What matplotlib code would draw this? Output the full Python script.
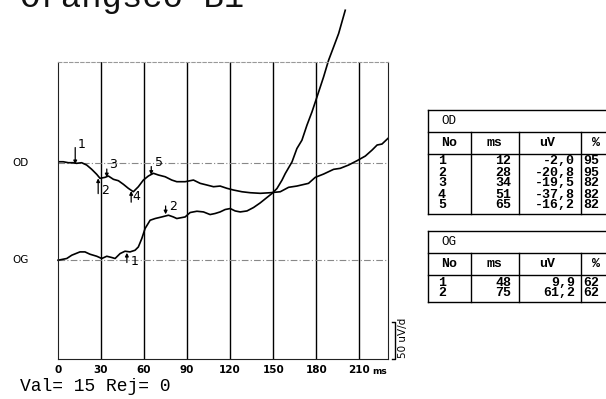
import matplotlib.pyplot as plt

# Traces (ms, uV relatives à la ligne de base de chaque oeil)
od_ms = [0, 3.7, 7.2, 10.7, 13.0, 16.5, 20.0, 23.5, 27.0, 29.3, 32.8, 35.1, 38.6, 42.1, 45.6,
         49.0, 52.5, 56.0, 59.5, 63.0, 66.5, 70.0, 74.7, 79.3, 82.8, 88.6, 94.4, 99.1, 103.7,
         108.4, 113.0, 117.7, 122.3, 128.2, 134.0, 141.0, 147.9, 154.9, 160.7, 166.5, 174.6,
         179.3, 185.1, 192.1, 196.7, 202.5, 208.4, 214.2, 218.9, 222.4, 225.8, 230.0]
od_uv = [1.3, 1.3, 0, 0, -0.8, 0, -3.1, -8.8, -15.5, -20.8, -19.5, -17.7, -22.1, -24.0, -28.8,
         -34.1, -38.7, -32.0, -23.1, -17.7, -14.1, -16.4, -18.7, -23.1, -25.3, -25.3, -23.1,
         -27.5, -29.7, -32.0, -31.1, -34.1, -36.4, -38.7, -40.0, -40.8, -40.0, -38.7, -32.8,
         -31.1, -27.5, -19.5, -15.1, -8.8, -7.5, -3.1, 2.7, 8.9, 16.9, 23.6, 24.9, 32.5]

og_ms = [0, 6.1, 9.6, 15.3, 18.8, 22.3, 27.0, 30.5, 34.0, 37.5, 39.8, 43.3, 46.7, 50.2, 53.7,
         56.0, 58.4, 60.7, 64.2, 67.7, 72.3, 77.0, 80.4, 82.8, 88.6, 92.1, 96.8, 101.4, 106.0,
         109.5, 113.0, 116.5, 120.0, 123.5, 127.0, 131.7, 136.3, 140.9, 145.6, 149.1, 152.6,
         156.1, 158.4, 163.1, 166.5, 170.0, 173.5, 177.0, 180.5, 185.1, 188.6, 192.1, 195.6, 200.2]
og_uv = [0, 2.3, 6.7, 11.1, 11.1, 8.0, 5.3, 2.3, 5.3, 3.6, 2.3, 8.9, 12.0, 11.1, 13.3,
         17.7, 28.9, 42.3, 53.3, 55.6, 57.7, 60.0, 57.7, 55.6, 57.7, 63.6, 65.3, 64.4, 60.9,
         62.3, 64.4, 67.6, 68.9, 65.7, 64.4, 65.7, 70.3, 76.4, 83.6, 88.9, 95.6,
         106.7, 115.6, 131.1, 148.9, 160.0, 180.0, 197.7, 217.7, 244.4, 266.7, 284.4, 302.3, 333.3]

# Pics mesurés
od_no = [1, 2, 3, 4, 5]
od_pk_ms = [12, 28, 34, 51, 65]
od_pk_uv = [-2.0, -20.8, -19.5, -37.8, -16.2]
od_pct = [95, 95, 82, 82, 82]

og_no = [1, 2]
og_pk_ms = [48, 75]
og_pk_uv = [9.9, 61.2]
og_pct = [62, 62]

x_ticks = [0, 30, 60, 90, 120, 150, 180, 210]
og_offset = -130
echelle = 50  # uV par division

narrow = 'Liberation Sans Narrow'
mono = 'Liberation Mono'

fig = plt.figure(figsize=(6.06, 3.99), dpi=100)
ax = fig.add_axes([58 / 606, 1 - 359 / 399, 330 / 606, 297 / 399])
ax.set_xlim(0, 230)
ax.set_ylim(-261.7, 134.3)

for x in x_ticks[1:]:
    ax.axvline(x, color='black', lw=1.0)
ax.axhline(0, color='#888888', lw=0.8, ls=(0, (6, 2, 1, 2)))
ax.axhline(og_offset, color='#888888', lw=0.8, ls=(0, (6, 2, 1, 2)))

ax.plot(od_ms, od_uv, color='black', lw=1.2)
ax.plot(og_ms, [v + og_offset for v in og_uv], color='black', lw=1.2, clip_on=False)

for s in ['left', 'right', 'bottom']:
    ax.spines[s].set_color('#222222')
    ax.spines[s].set_linewidth(0.8)
ax.spines['top'].set_color('#999999')
ax.spines['top'].set_linestyle((0, (3, 2)))
ax.spines['top'].set_linewidth(0.8)

ax.set_xticks(x_ticks)
ax.set_xticklabels([str(t) for t in x_ticks], fontfamily=narrow, fontweight='bold', fontsize=7.5)
ax.tick_params(axis='x', length=0, pad=4)
ax.set_yticks([])
ax.text(229, -272, 'ms', fontfamily=narrow, fontweight='bold', fontsize=6.5,
        ha='right', va='top')


def fleche(ms, uv, dy, lx, ly, lab):
    # dy > 0 : flèche venant du haut, dy < 0 : venant du bas
    ax.annotate('', xy=(ms, uv), xytext=(0, dy), textcoords='offset points',
                arrowprops=dict(arrowstyle='-|>', color='black', lw=0.9,
                                mutation_scale=5, shrinkA=0, shrinkB=0))
    ax.annotate(str(lab), xy=(ms, uv), xytext=(lx, ly), textcoords='offset points',
                fontfamily=narrow, fontsize=9, ha='center', va='center')


od_fl = [(12, 4.9, 14.4), (-11, 5.0, -8.6), (6, 4.3, 8.9), (-8, 4.0, -4.0), (6, 5.6, 8.6)]
for n, m, u, (dy, lx, ly) in zip(od_no, od_pk_ms, od_pk_uv, od_fl):
    fleche(m, u, dy, lx, ly, n)

og_fl = [(-7, 5.4, -6.5), (6, 5.6, 5.8)]
for n, m, u, (dy, lx, ly) in zip(og_no, og_pk_ms, og_pk_uv, og_fl):
    fleche(m, u + og_offset, dy, lx, ly, n)

# barre d'échelle
bx = 235.0
y0 = -261.7
ax.plot([bx - 2.5, bx, bx, bx - 2.5], [y0, y0, y0 + echelle, y0 + echelle],
        color='black', lw=1.0, clip_on=False, zorder=5)
ax.text(bx + 5.8, y0 + echelle / 2 + 3, f'{echelle} uV/d', rotation=90, fontfamily=narrow,
        fontsize=7.5, ha='center', va='center')

# couche en pixels pour les textes et tableaux
ov = fig.add_axes([0, 0, 1, 1], zorder=-1)
ov.set_xlim(0, 606)
ov.set_ylim(399, 0)
ov.axis('off')

ov.text(20, 7.5, 'Orangsco B1', fontfamily=mono, fontsize=24.5, va='baseline', color='#111111')
ov.text(20, 391, 'Val= 15 Rej= 0', fontfamily=mono, fontsize=13, va='baseline')
ov.text(12, 162.5, 'OD', fontfamily=narrow, fontsize=7.5, va='center')
ov.text(12, 260, 'OG', fontfamily=narrow, fontsize=7.5, va='center')


def tableau(titre, top, nos, ms, uv, pct):
    left, right = 428, 640
    h_t, h_c, h_r = 22, 22, 11
    l1 = top + h_t
    l2 = l1 + h_c
    bottom = l2 + 5 + h_r * len(nos)
    kw = dict(color='black', lw=1.0)
    ov.plot([left, right], [top, top], **kw)
    ov.plot([left, right], [l1, l1], **kw)
    ov.plot([left, right], [l2, l2], **kw)
    ov.plot([left, right], [bottom, bottom], **kw)
    ov.plot([left, left], [top, bottom], **kw)
    for cx in [471, 519, 581]:
        ov.plot([cx, cx], [l1, bottom], **kw)
    ov.text(441, (top + l1) / 2, titre, fontfamily=mono, fontsize=9, va='center')
    hy = (l1 + l2) / 2
    for txt, cx in [('No', 449), ('ms', 495), ('uV', 547), ('%', 596)]:
        ov.text(cx, hy, txt, fontfamily=mono, fontsize=9.5, fontweight='bold',
                ha='center', va='center')
    for i, (n, m, u, p) in enumerate(zip(nos, ms, uv, pct)):
        ry = l2 + 7.5 + h_r * i
        st = dict(fontfamily=mono, fontsize=9.5, fontweight='bold', va='center')
        ov.text(438, ry, str(n), **st)
        ov.text(511, ry, str(m), ha='right', **st)
        ov.text(575, ry, f'{u:.1f}'.replace('.', ','), ha='right', **st)
        ov.text(583, ry, str(p), **st)


tableau('OD', 110, od_no, od_pk_ms, od_pk_uv, od_pct)
tableau('OG', 231, og_no, og_pk_ms, og_pk_uv, og_pct)

fig.savefig('out.png', dpi=100)
